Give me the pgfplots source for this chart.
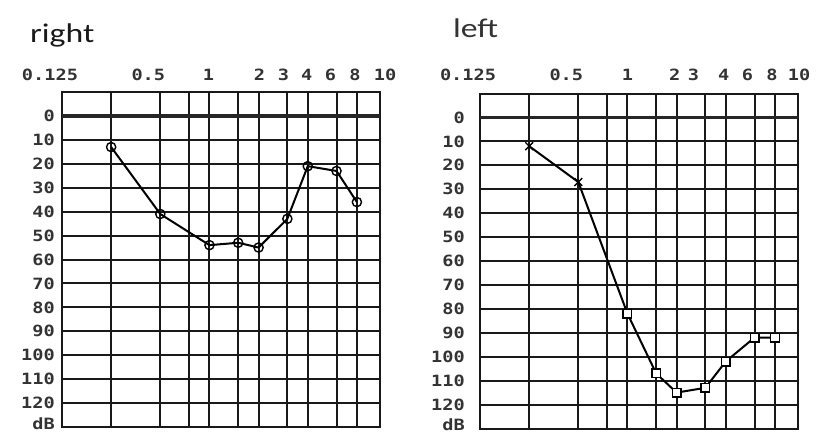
\documentclass[border=0pt]{standalone}
\usepackage{pgfplots}
\usepackage{pgfplotstable}
\pgfplotsset{compat=1.18}
\usepackage{fontspec}
\setmainfont{Carlito}
\newfontfamily\titlefont[FakeStretch=1.25]{Carlito}
\newfontfamily\labfont[FakeStretch=1.2]{DejaVu Sans Mono Bold}

\pgfplotstableread{
f dB
0.25 13
0.5 41
1 54
1.5 53
2 55
3 43
4 21
6 23
8 36
}\rightear

\pgfplotstableread{
f dB
0.25 12
0.5 27
1 82
1.5 107
2 115
3 113
4 102
6 92
8 92
}\leftear

\tikzset{xlab/.style={font=\labfont\fontsize{15.5bp}{15.5bp}\selectfont, text=black!80, anchor=center, inner sep=0pt}}

\begin{document}
\begin{tikzpicture}
\useasboundingbox (0,0) rectangle (819bp,432bp);

\node[font=\titlefont\fontsize{27bp}{27bp}\selectfont, text=black!90, anchor=base west, inner sep=0pt] at (30bp,389bp) {right};
\node[font=\titlefont\fontsize{27bp}{27bp}\selectfont, text=black!80, anchor=base west, inner sep=0pt] at (453bp,394bp) {left};

% right ear
\begin{axis}[
    scale only axis, width=318bp, height=335bp,
    xmode=log, log basis x=2, xmin=0.125, xmax=11.08,
    ymin=-10, ymax=130, y dir=reverse,
    xtick={0.25,0.5,0.75,1,1.5,2,3,4,6,8}, xticklabels={},
    ytick={0,10,20,30,40,50,60,70,80,90,100,110,120,130},
    yticklabels={0,10,20,30,40,50,60,70,80,90,100,110,120,\raisebox{6.5bp}{dB}},
    grid=major,
    major grid style={black!90, line width=2bp},
    axis line style={black!90, line width=2bp},
    major tick length=0pt,
    yticklabel style={font=\labfont\fontsize{15.5bp}{15.5bp}\selectfont, text=black!80, xshift=-6bp, inner sep=1bp},
    clip=false,
    at={(221bp,172.5bp)}, anchor=center]
\addplot[black, line width=2bp] table[x=f, y=dB] {\rightear};
\addplot[only marks, mark=o, mark size=4.6bp, mark options={fill=white, draw=black, line width=1.4bp}] table[x=f, y=dB] {\rightear};
\draw[black!85, line width=3.5bp] (axis cs:0.125,0) -- (axis cs:11.08,0);
\node[xlab, yshift=17bp, xshift=-12bp] at (axis cs:0.125,-10) {0.125};
\node[xlab, yshift=17bp, xshift=-12bp] at (axis cs:0.5,-10) {0.5};
\node[xlab, yshift=17bp, xshift=-1bp] at (axis cs:1,-10) {1};
\node[xlab, yshift=17bp, xshift=1bp] at (axis cs:2,-10) {2};
\node[xlab, yshift=17bp, xshift=-4bp] at (axis cs:3,-10) {3};
\node[xlab, yshift=17bp, xshift=-1bp] at (axis cs:4,-10) {4};
\node[xlab, yshift=17bp, xshift=-6bp] at (axis cs:6,-10) {6};
\node[xlab, yshift=17bp, xshift=-2bp] at (axis cs:8,-10) {8};
\node[xlab, yshift=17bp, xshift=5bp] at (axis cs:11.08,-10) {10};
\end{axis}

% left ear
\begin{axis}[
    scale only axis, width=318bp, height=335bp,
    xmode=log, log basis x=2, xmin=0.125, xmax=11.08,
    ymin=-10, ymax=130, y dir=reverse,
    xtick={0.25,0.5,0.75,1,1.5,2,3,4,6,8}, xticklabels={},
    ytick={0,10,20,30,40,50,60,70,80,90,100,110,120,130},
    yticklabels={0,10,20,30,40,50,60,70,80,90,100,110,120,\raisebox{8.5bp}{dB}},
    grid=major,
    major grid style={black!90, line width=2bp},
    axis line style={black!90, line width=2bp},
    major tick length=0pt,
    yticklabel style={font=\labfont\fontsize{15.5bp}{15.5bp}\selectfont, text=black!80, xshift=-14bp, inner sep=1bp},
    clip=false,
    at={(639bp,171bp)}, anchor=center]
\addplot[black, line width=2bp] table[x=f, y=dB] {\leftear};
\addplot[only marks, mark=x, mark size=5.5bp, mark options={draw=black, line width=1.4bp}, restrict expr to domain={\coordindex}{0:1}] table[x=f, y=dB] {\leftear};
\addplot[only marks, mark=square*, mark size=4.3bp, mark options={fill=white, draw=black, line width=1.4bp}, restrict expr to domain={\coordindex}{2:8}] table[x=f, y=dB] {\leftear};
\draw[black!85, line width=3.5bp] (axis cs:0.125,0) -- (axis cs:11.08,0);
\node[xlab, yshift=19bp, xshift=-12bp] at (axis cs:0.125,-10) {0.125};
\node[xlab, yshift=19bp, xshift=-12bp] at (axis cs:0.5,-10) {0.5};
\node[xlab, yshift=19bp, xshift=0bp] at (axis cs:1,-10) {1};
\node[xlab, yshift=19bp, xshift=-2bp] at (axis cs:2,-10) {2};
\node[xlab, yshift=19bp, xshift=-12bp] at (axis cs:3,-10) {3};
\node[xlab, yshift=19bp, xshift=-2bp] at (axis cs:4,-10) {4};
\node[xlab, yshift=19bp, xshift=-7bp] at (axis cs:6,-10) {6};
\node[xlab, yshift=19bp, xshift=-3bp] at (axis cs:8,-10) {8};
\node[xlab, yshift=19bp, xshift=1bp] at (axis cs:11.08,-10) {10};
\end{axis}
\end{tikzpicture}
\end{document}
